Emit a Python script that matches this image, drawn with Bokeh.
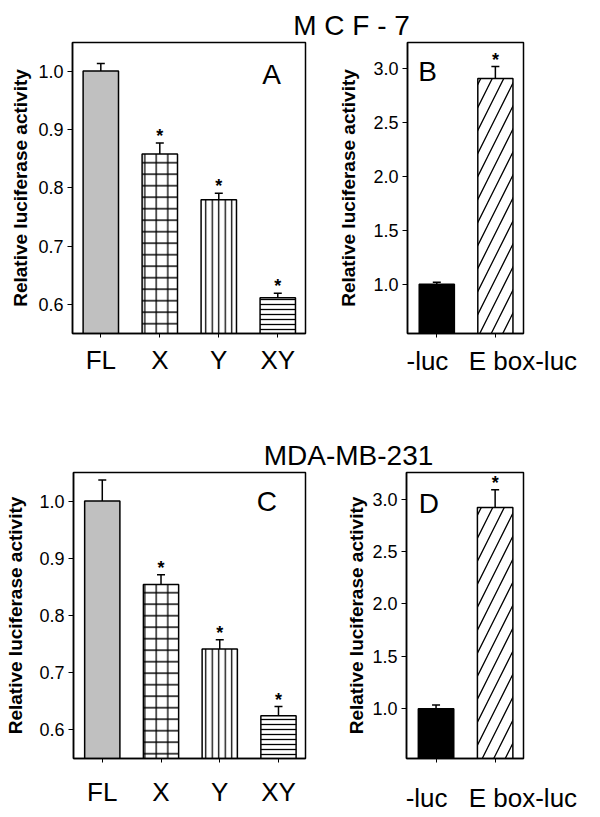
from bokeh.plotting import figure
from bokeh.layouts import column, row
from bokeh.models import (Range1d, FixedTicker, Whisker, TeeHead, Label,
                          ColumnDataSource, NumeralTickFormatter, LinearAxis)
from bokeh.core.properties import value
from bokeh.embed import file_html
from bokeh.resources import INLINE

FONT = "Liberation Sans"

# ---------------- data ----------------
construct_labels = ["FL", "X", "Y", "XY"]
reporter_labels = ["-luc", "E box-luc"]

mcf7_title = "M C F - 7"
mcf7_construct_activity = [1.000, 0.858, 0.780, 0.612]
mcf7_construct_sem = [0.013, 0.019, 0.011, 0.008]
mcf7_construct_signif = ["", "*", "*", "*"]
mcf7_reporter_activity = [1.00, 2.91]
mcf7_reporter_sem = [0.02, 0.11]
mcf7_reporter_signif = ["", "*"]

mda_title = "MDA-MB-231"
mda_construct_activity = [1.000, 0.854, 0.741, 0.624]
mda_construct_sem = [0.037, 0.017, 0.016, 0.016]
mda_construct_signif = ["", "*", "*", "*"]
mda_reporter_activity = [1.00, 2.92]
mda_reporter_sem = [0.037, 0.17]
mda_reporter_signif = ["", "*"]

construct_ticks = [0.6, 0.7, 0.8, 0.9, 1.0]
reporter_ticks = [1.0, 1.5, 2.0, 2.5, 3.0]

y_label = "Relative luciferase activity"

# ---------------- styles ----------------
construct_fill = ["#c0c0c0", "white", "white", "white"]
construct_hatch = [" ", "+", "|", "-"]
construct_hatch_scale = [12, 11.5, 6.5, 5]
reporter_fill = ["black", "white"]
reporter_hatch = [" ", "/"]
reporter_hatch_scale = [12, 23]


def panel(width, height, borders, xr, yr, labels, vals, sems, stars, fills,
          hatches, scales, ticks, letter, letter_pos, label_standoff,
          x_standoff, label_pos=None):
    left, right, top, bottom = borders
    p = figure(width=width, height=height, title=None,
               x_range=Range1d(*xr), y_range=Range1d(*yr),
               output_backend="svg", toolbar_location=None,
               min_border_left=left, min_border_right=right,
               min_border_top=top, min_border_bottom=bottom)
    p.background_fill_color = None
    p.border_fill_color = None
    xs = list(range(len(labels)))
    src = ColumnDataSource(dict(
        x=xs, top=vals, upper=[v + s for v, s in zip(vals, sems)],
        fill=fills, hatch=hatches, scale=scales, star=stars))
    p.vbar(x="x", top="top", bottom=0, width=0.6, source=src,
           fill_color="fill", line_color="black", line_width=1.5,
           hatch_pattern="hatch", hatch_scale="scale", hatch_color="black",
           hatch_weight=1.3)
    p.add_layout(Whisker(base="x", lower="top", upper="upper", source=src,
                         line_color="black", line_width=1.5,
                         lower_head=None,
                         upper_head=TeeHead(size=8, line_width=1.5,
                                            line_color="black")))
    p.text(x="x", y="upper", text="star", source=src,
           text_font=value(FONT), text_font_style="bold",
           text_font_size="18px", text_align="center",
           text_baseline="alphabetic", text_color="black", y_offset=-7)

    p.grid.visible = False
    p.outline_line_color = "black"
    p.outline_line_width = 1.5

    xa = p.xaxis[0]
    xa.ticker = FixedTicker(ticks=xs)
    xa.axis_line_width = 1.5
    xa.major_tick_in = 0
    xa.major_tick_out = 4
    xa.minor_tick_line_color = None
    xa.major_label_text_font = FONT
    xa.major_label_text_font_size = "26px"
    xa.major_label_text_color = "black"
    if label_pos is None:
        xa.major_label_standoff = x_standoff
        xa.major_label_overrides = {i: l for i, l in zip(xs, labels)}
    else:
        # tick marks at the bars, labels on a second axis placed as drawn
        xa.major_label_standoff = 0
        xa.major_label_text_font_size = "1px"
        xa.major_label_overrides = {i: "" for i in xs}
        la = LinearAxis(ticker=FixedTicker(ticks=label_pos),
                        major_label_overrides={q: l for q, l in zip(label_pos, labels)},
                        axis_line_color=None, major_tick_line_color=None,
                        minor_tick_line_color=None,
                        major_label_standoff=x_standoff,
                        major_label_text_font=FONT,
                        major_label_text_font_size="26px",
                        major_label_text_color="black")
        p.add_layout(la, "below")

    ya = p.yaxis[0]
    ya.ticker = FixedTicker(ticks=ticks)
    ya.formatter = NumeralTickFormatter(format="0.0")
    ya.axis_line_width = 1.5
    ya.major_tick_in = 0
    ya.major_tick_out = 5
    ya.minor_tick_line_color = None
    ya.major_label_text_font = FONT
    ya.major_label_text_font_size = "18px"
    ya.major_label_text_color = "black"
    ya.major_label_standoff = 4
    ya.axis_label = y_label
    ya.axis_label_text_font = FONT
    ya.axis_label_text_font_size = "19px"
    ya.axis_label_text_font_style = "bold"
    ya.axis_label_text_color = "black"
    ya.axis_label_standoff = label_standoff

    p.add_layout(Label(x=letter_pos[0], y=letter_pos[1], text=letter,
                       text_align="center", text_baseline="middle",
                       text_font=FONT, text_font_size="28px",
                       text_color="black"))
    return p


def title_fig(width, height, text, cx, base):
    t = figure(width=width, height=height, title=None,
               x_range=Range1d(0, width), y_range=Range1d(0, height),
               x_axis_type=None, y_axis_type=None,
               output_backend="svg", toolbar_location=None,
               min_border_left=0, min_border_right=0,
               min_border_top=0, min_border_bottom=0)
    t.outline_line_color = None
    t.background_fill_color = None
    t.border_fill_color = None
    t.grid.visible = False
    t.text(x=[cx], y=[base], text=[text], text_align="center",
           text_baseline="alphabetic", text_font=value(FONT),
           text_font_size="28px", text_color="black")
    return t


t1 = title_fig(600, 41, mcf7_title, 351, 16)
pa = panel(320, 377, (72, 15, 0, 85), (-0.48, 3.47), (0.551, 1.0489),
           construct_labels, mcf7_construct_activity, mcf7_construct_sem,
           mcf7_construct_signif, construct_fill, construct_hatch,
           construct_hatch_scale, construct_ticks, "A", (2.893, 0.994),
           4, 7)
pb = panel(280, 377, (87, 77, 1, 85), (-0.5, 1.48), (0.5435, 3.243),
           reporter_labels, mcf7_reporter_activity, mcf7_reporter_sem,
           mcf7_reporter_signif, reporter_fill, reporter_hatch,
           reporter_hatch_scale, reporter_ticks, "B", (-0.159, 2.977),
           11, 2, label_pos=[-0.16, 1.47])
t2 = title_fig(600, 53, mda_title, 348, 16)
pc = panel(320, 344, (73, 15, 0, 50), (-0.49, 3.46), (0.549, 1.05),
           construct_labels, mda_construct_activity, mda_construct_sem,
           mda_construct_signif, construct_fill, construct_hatch,
           construct_hatch_scale, construct_ticks, "C", (2.803, 1.0),
           10, 14)
pd = panel(280, 344, (86, 77, 1, 50), (-0.5, 1.48), (0.526, 3.254),
           reporter_labels, mda_reporter_activity, mda_reporter_sem,
           mda_reporter_signif, reporter_fill, reporter_hatch,
           reporter_hatch_scale, reporter_ticks, "D", (-0.123, 2.96),
           2, 14, label_pos=[-0.16, 1.47])

layout = column(t1, row(pa, pb), t2, row(pc, pd))
open("out.html", "w").write(file_html(layout, INLINE))
